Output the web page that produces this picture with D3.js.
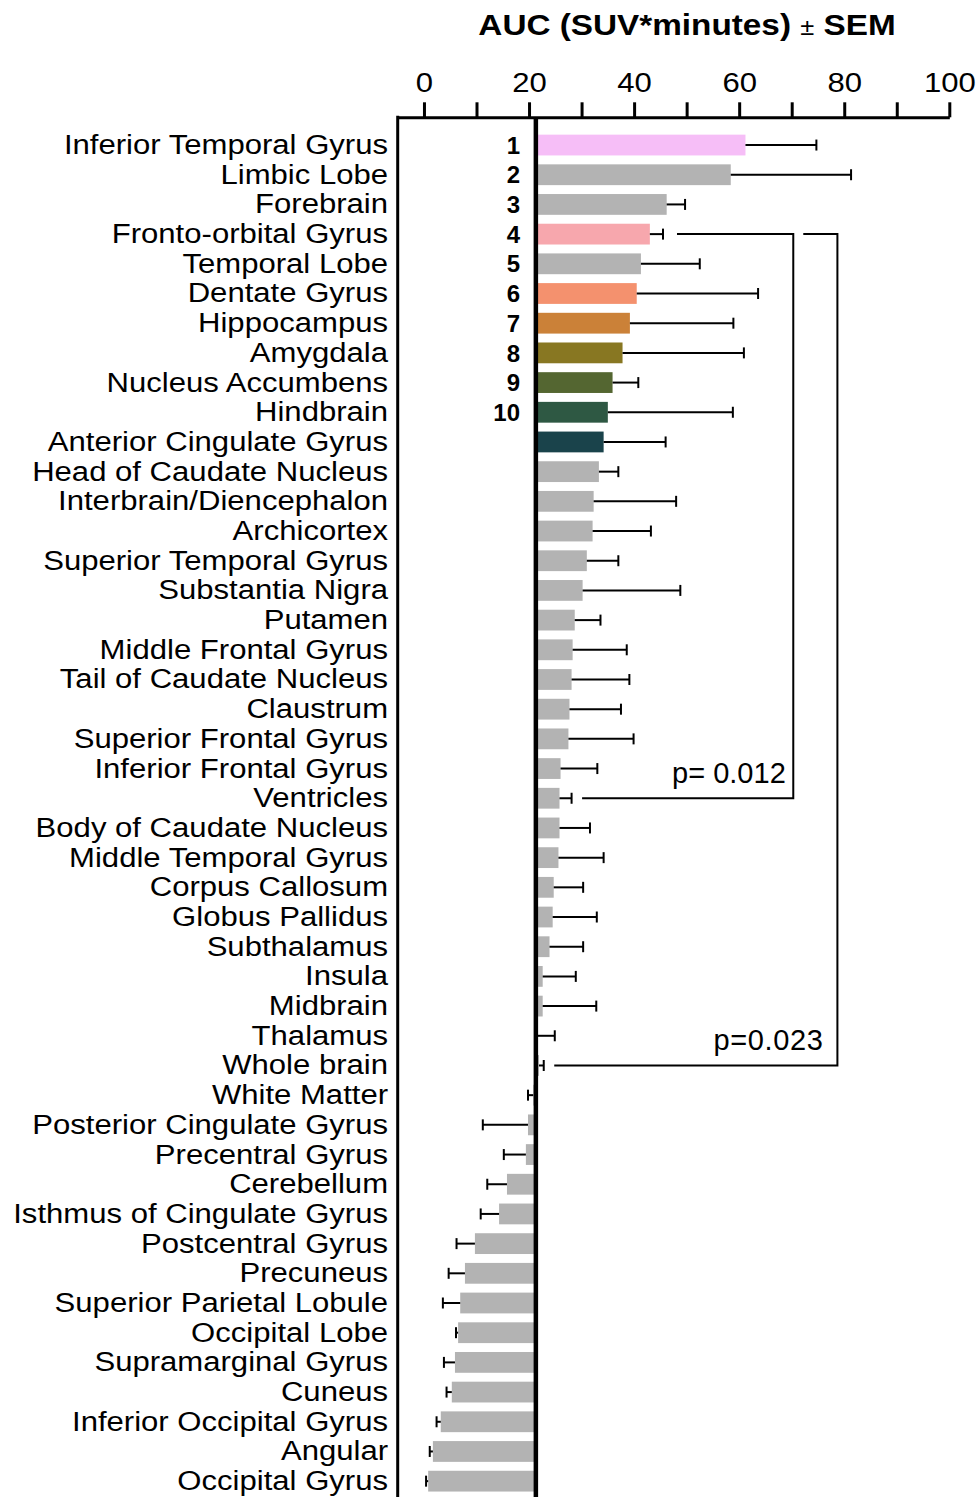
<!DOCTYPE html>
<html>
<head>
<meta charset="utf-8">
<script src="https://cdn.jsdelivr.net/npm/d3@7"></script>
<style>
  body { margin: 0; background: #fff; }
  text { font-family: "Liberation Sans", Arial, Helvetica, sans-serif; fill: #000; }
</style>
</head>
<body>
<div id="chart"></div>
<script>
// regions, top to bottom
const regions = [
  "Inferior Temporal Gyrus", "Limbic Lobe", "Forebrain", "Fronto-orbital Gyrus",
  "Temporal Lobe", "Dentate Gyrus", "Hippocampus", "Amygdala", "Nucleus Accumbens",
  "Hindbrain", "Anterior Cingulate Gyrus", "Head of Caudate Nucleus",
  "Interbrain/Diencephalon", "Archicortex", "Superior Temporal Gyrus",
  "Substantia Nigra", "Putamen", "Middle Frontal Gyrus", "Tail of Caudate Nucleus",
  "Claustrum", "Superior Frontal Gyrus", "Inferior Frontal Gyrus", "Ventricles",
  "Body of Caudate Nucleus", "Middle Temporal Gyrus", "Corpus Callosum",
  "Globus Pallidus", "Subthalamus", "Insula", "Midbrain", "Thalamus", "Whole brain",
  "White Matter", "Posterior Cingulate Gyrus", "Precentral Gyrus", "Cerebellum",
  "Isthmus of Cingulate Gyrus", "Postcentral Gyrus", "Precuneus",
  "Superior Parietal Lobule", "Occipital Lobe", "Supramarginal Gyrus", "Cuneus",
  "Inferior Occipital Gyrus", "Angular", "Occipital Gyrus"
];

// AUC values (SUV*minutes)
const auc = [
  61.2, 58.4, 46.2, 43.0, 41.3, 40.5, 39.2, 37.8, 35.9, 35.0,
  34.2, 33.3, 32.3, 32.1, 31.0, 30.2, 28.7, 28.3, 28.1, 27.7,
  27.5, 26.0, 25.8, 25.8, 25.6, 24.7, 24.5, 23.9, 22.6, 22.6,
  21.5, 21.9, 20.8, 19.8, 19.4, 15.8, 14.3, 9.7, 7.8, 6.9,
  6.5, 5.9, 5.3, 3.2, 1.7, 0.8
];

// SEM
const sem = [
  13.5, 22.9, 3.5, 2.5, 11.2, 23.1, 19.7, 23.1, 4.9, 23.8,
  11.8, 3.7, 15.7, 11.1, 6.0, 18.6, 4.9, 10.3, 11.0, 9.8,
  12.4, 7.0, 2.3, 5.8, 8.6, 5.6, 8.4, 6.4, 6.3, 10.2,
  3.4, 0.9, 1.0, 8.6, 4.2, 3.75, 3.5, 3.5, 3.1, 3.3,
  0.4, 2.1, 1.0, 0.8, 0.6, 0.4
];

const ranks = ["1", "2", "3", "4", "5", "6", "7", "8", "9", "10"];

// highlighted regions, everything else grey
const highlightRegions = [
  "Inferior Temporal Gyrus", "Fronto-orbital Gyrus", "Dentate Gyrus", "Hippocampus",
  "Amygdala", "Nucleus Accumbens", "Hindbrain", "Anterior Cingulate Gyrus"
];
const highlightColors = [
  "#f6bef7", "#f7a7ad", "#f4916e", "#cb8138", "#887722", "#546631", "#2e5843", "#1a434b"
];

const tickValues = [0, 10, 20, 30, 40, 50, 60, 70, 80, 90, 100];
const tickLabels = ["0", "", "20", "", "40", "", "60", "", "80", "", "100"];

const baseline = 21.3;

const comparisons = [
  {from: "Fronto-orbital Gyrus", to: "Ventricles", level: 70.3, p: "p= 0.012"},
  {from: "Fronto-orbital Gyrus", to: "Whole brain", level: 78.7, p: "p=0.023"}
];

const width = 978, height = 1497;
const axisY = 117.3;
const stretch = 1.11;

const svg = d3.select("#chart")
    .append("svg")
    .attr("width", width)
    .attr("height", height);

const x = d3.scaleLinear()
    .domain([-5, 100])
    .range([397.7, 949.3]);

const y = d3.scaleBand()
    .domain(regions)
    .range([130.2, 1496])
    .paddingInner(0.3)
    .paddingOuter(0.15);

const color = d3.scaleOrdinal()
    .domain(highlightRegions)
    .range(highlightColors)
    .unknown("#b3b3b3");

const data = regions.map((r, i) => ({region: r, value: auc[i], sem: sem[i]}));

// title
const title = svg.append("text")
    .attr("text-anchor", "middle")
    .attr("transform", "translate(687,35) scale(" + stretch + ",1)")
    .attr("font-size", "30px")
    .attr("font-weight", "bold");
title.append("tspan").text("AUC (SUV*minutes) ");
title.append("tspan").attr("font-weight", "normal").attr("font-size", "23px").text("±");
title.append("tspan").text(" SEM");

// bars
svg.selectAll(".bar")
    .data(data)
    .enter()
    .append("rect")
    .attr("class", "bar")
    .attr("x", d => Math.min(x(baseline), x(d.value)))
    .attr("width", d => Math.abs(x(d.value) - x(baseline)))
    .attr("y", d => y(d.region))
    .attr("height", y.bandwidth())
    .attr("fill", d => color(d.region));

// error bars, one sided away from the baseline
const errEnd = d => d.value >= baseline ? d.value + d.sem : d.value - d.sem;
const err = svg.selectAll(".err")
    .data(data)
    .enter()
    .append("g")
    .attr("class", "err")
    .attr("stroke", "#000")
    .attr("stroke-width", 2);
err.append("line")
    .attr("x1", d => x(d.value))
    .attr("x2", d => x(errEnd(d)))
    .attr("y1", d => y(d.region) + y.bandwidth() / 2)
    .attr("y2", d => y(d.region) + y.bandwidth() / 2);
err.append("line")
    .attr("x1", d => x(errEnd(d)))
    .attr("x2", d => x(errEnd(d)))
    .attr("y1", d => y(d.region) + y.bandwidth() / 2 - 5.5)
    .attr("y2", d => y(d.region) + y.bandwidth() / 2 + 5.5);

// rank numbers
svg.selectAll(".rank")
    .data(ranks)
    .enter()
    .append("text")
    .attr("class", "rank")
    .attr("text-anchor", "end")
    .attr("x", 520)
    .attr("y", (d, i) => y(regions[i]) + y.bandwidth() / 2)
    .attr("dy", "0.36em")
    .attr("font-size", "24px")
    .attr("font-weight", "bold")
    .text(d => d);

// significance brackets
comparisons.forEach((c, k) => {
  const a = data[regions.indexOf(c.from)], b = data[regions.indexOf(c.to)];
  const ya = y(a.region) + y.bandwidth() / 2, yb = y(b.region) + y.bandwidth() / 2;
  const xa = k === 0 ? x(errEnd(a)) + 14 : x(comparisons[k - 1].level) + 10;
  const xb = x(errEnd(b)) + 10.5;
  svg.append("path")
      .attr("d", "M" + xa + "," + ya + "H" + x(c.level) + "V" + yb + "H" + xb)
      .attr("fill", "none")
      .attr("stroke", "#000")
      .attr("stroke-width", 2);
  svg.append("text")
      .attr("text-anchor", "end")
      .attr("x", x(c.level) - (k === 0 ? 7.5 : 14))
      .attr("y", yb - 15)
      .attr("font-size", "29px")
      .attr("letter-spacing", k === 0 ? "0px" : "0.6px")
      .text(c.p);
});

// top axis
const xAxis = svg.append("g")
    .attr("transform", "translate(0," + axisY + ")")
    .call(d3.axisTop(x)
        .tickValues(tickValues)
        .tickFormat((d, i) => tickLabels[i])
        .tickSize(15)
        .tickSizeOuter(0)
        .tickPadding(10));
xAxis.selectAll("path, line").attr("stroke", "#000").attr("stroke-width", 3);
xAxis.selectAll("text")
    .attr("font-size", "28px")
    .attr("fill", "#000")
    .attr("transform", "scale(" + stretch + ",1)");

// left frame line and baseline
svg.append("line")
    .attr("x1", x(-5)).attr("x2", x(-5))
    .attr("y1", axisY - 1.5).attr("y2", height)
    .attr("stroke", "#000").attr("stroke-width", 3);
svg.append("line")
    .attr("x1", x(baseline)).attr("x2", x(baseline))
    .attr("y1", axisY).attr("y2", height)
    .attr("stroke", "#000").attr("stroke-width", 4.5);

// region labels
const yAxis = svg.append("g")
    .attr("transform", "translate(" + x(-5) + ",0)")
    .call(d3.axisLeft(y).tickSize(0).tickPadding(8.7));
yAxis.select(".domain").remove();
yAxis.selectAll("text")
    .attr("font-size", "28px")
    .attr("fill", "#000")
    .attr("font-family", "'Liberation Sans', Arial, Helvetica, sans-serif")
    .attr("transform", "scale(" + stretch + ",1)");
xAxis.attr("font-family", "'Liberation Sans', Arial, Helvetica, sans-serif");
</script>
</body>
</html>
